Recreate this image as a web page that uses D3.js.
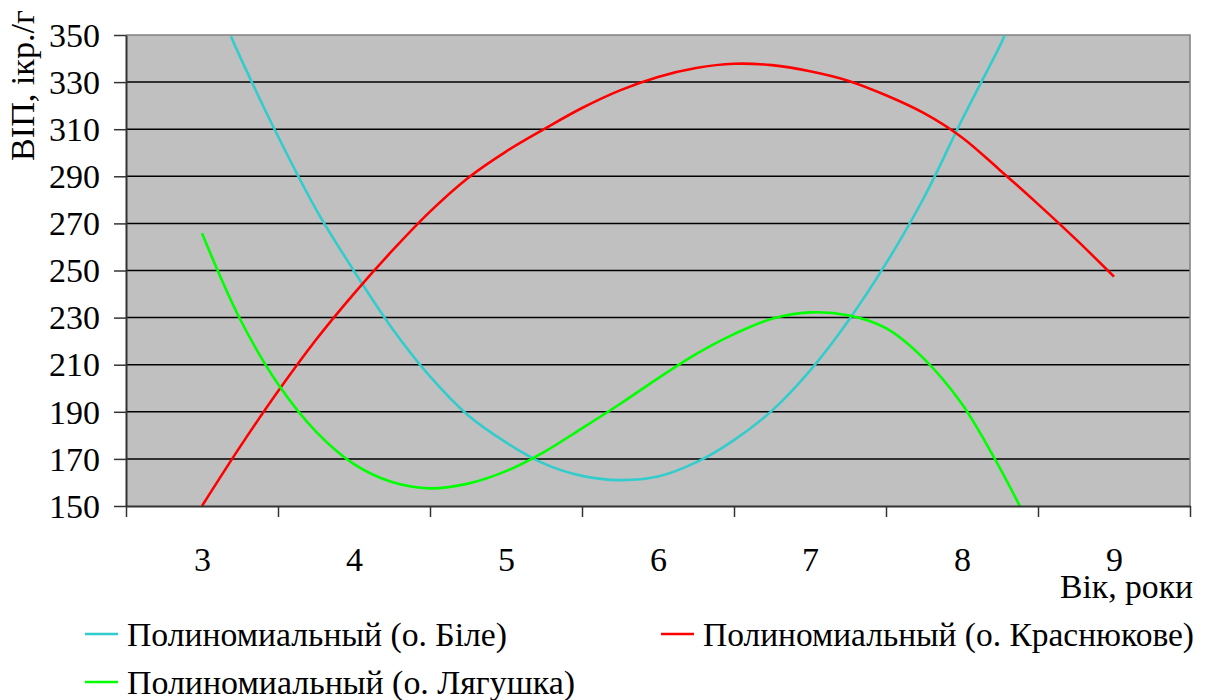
<!DOCTYPE html>
<html>
<head>
<meta charset="utf-8">
<script src="https://cdn.jsdelivr.net/npm/d3@7"></script>
<style>
  html, body { margin: 0; padding: 0; background: #ffffff; }
</style>
</head>
<body>
<svg id="chart" width="1211" height="700" style="font-family: 'Liberation Serif', 'Times New Roman', serif;"></svg>
<script>
// Age categories shown on the horizontal axis
const ageLabels = [3, 4, 5, 6, 7, 8, 9];
// Vertical axis ticks (ВІП, ікр./г)
const vipTicks = [150, 170, 190, 210, 230, 250, 270, 290, 310, 330, 350];

// Polynomial trend, о. Біле
const bileAge = [3.19, 3.25, 3.5, 3.75, 4.0, 4.25, 4.5, 4.75, 5.0, 5.25, 5.5, 5.75, 6.0, 6.25, 6.5, 6.75, 7.0, 7.25, 7.5, 7.75, 8.0, 8.25, 8.28];
const bileVip = [349.5, 340.8, 307.0, 276.0, 249.8, 225.5, 205.0, 188.5, 177.0, 168.0, 162.8, 161.0, 162.5, 168.5, 178.0, 190.5, 207.5, 228.5, 253.0, 281.0, 314.0, 345.5, 349.8];

// Polynomial trend, о. Краснюкове
const krasAge = [3.0, 3.25, 3.5, 3.75, 4.0, 4.25, 4.5, 4.75, 5.0, 5.25, 5.5, 5.75, 6.0, 6.25, 6.5, 6.75, 7.0, 7.25, 7.5, 7.75, 8.0, 8.25, 8.5, 8.75, 9.0];
const krasVip = [150, 175.1, 198.7, 220.6, 240.2, 258.3, 275.0, 289.3, 300.5, 310.0, 319.0, 326.5, 332.2, 336.0, 337.8, 337.2, 334.6, 330.6, 324.4, 316.8, 306.5, 292.6, 278.2, 263.2, 247.4];

// Polynomial trend, о. Лягушка
const lyagAge = [3.0, 3.25, 3.5, 3.75, 4.0, 4.25, 4.5, 4.75, 5.0, 5.25, 5.5, 5.75, 6.0, 6.25, 6.5, 6.75, 7.0, 7.25, 7.5, 7.75, 8.0, 8.25, 8.38];
const lyagVip = [265.8, 229.4, 201.8, 181.6, 167.8, 160.2, 157.5, 159.5, 164.8, 172.9, 183.0, 193.3, 204.2, 214.5, 223.0, 229.5, 232.2, 231.0, 225.5, 212.5, 193.3, 166.0, 150];

const seriesNames = ["Полиномиальный (о. Біле)", "Полиномиальный (о. Краснюкове)", "Полиномиальный (о. Лягушка)"];
const seriesColors = ["#33cccc", "#ff0000", "#00ff00"];

const FONT = "'Liberation Serif', 'Times New Roman', serif";

const svg = d3.select("#chart");
const plot = { left: 126, right: 1190, top: 35, bottom: 506 };

const x = d3.scaleLinear().domain([2.5, 9.5]).range([plot.left, plot.right]);
const y = d3.scaleLinear().domain([150, 350]).range([plot.bottom, plot.top]);

// every text element gets the serif face explicitly
function serif(sel) {
  return sel.attr("font-family", FONT).style("font-family", FONT).attr("fill", "#000");
}

// plot background
svg.append("rect")
  .attr("x", plot.left).attr("y", plot.top)
  .attr("width", plot.right - plot.left).attr("height", plot.bottom - plot.top)
  .attr("fill", "#c0c0c0");

// horizontal gridlines
svg.append("g").selectAll("line")
  .data(vipTicks.filter(v => v > 150 && v < 350))
  .join("line")
  .attr("x1", plot.left).attr("x2", plot.right)
  .attr("y1", d => y(d)).attr("y2", d => y(d))
  .attr("stroke", "#000").attr("stroke-width", 1.5);

// top and right frame
svg.append("path")
  .attr("d", `M${plot.left},${plot.top}H${plot.right}V${plot.bottom}`)
  .attr("fill", "none").attr("stroke", "#808080").attr("stroke-width", 1.5);

// clip for trend lines
svg.append("clipPath").attr("id", "plotClip")
  .append("rect")
  .attr("x", plot.left).attr("y", plot.top - 1)
  .attr("width", plot.right - plot.left).attr("height", plot.bottom - plot.top + 2);

const line = d3.line()
  .x(d => x(d[0])).y(d => y(d[1]))
  .curve(d3.curveCatmullRom.alpha(0.5));

const series = [
  d3.zip(bileAge, bileVip),
  d3.zip(krasAge, krasVip),
  d3.zip(lyagAge, lyagVip)
];

svg.append("g").attr("clip-path", "url(#plotClip)")
  .selectAll("path")
  .data(series)
  .join("path")
  .attr("d", line)
  .attr("fill", "none")
  .attr("stroke", (d, i) => seriesColors[i])
  .attr("stroke-width", 2.6)
  .attr("stroke-linejoin", "round");

// y axis
const yAxis = svg.append("g")
  .attr("transform", `translate(${plot.left},0)`)
  .call(d3.axisLeft(y).tickValues(vipTicks).tickSize(12).tickPadding(14).tickSizeOuter(0));
yAxis.attr("font-family", FONT).attr("font-size", 34);
yAxis.select(".domain").attr("stroke", "#333").attr("stroke-width", 2);
yAxis.selectAll(".tick line").attr("stroke", "#333").attr("stroke-width", 1.5);
serif(yAxis.selectAll(".tick text"))
  .attr("font-size", 34)
  .attr("dy", "0.33em");

// x axis: tick marks on category boundaries
const boundaries = d3.range(2.5, 10, 1);
const xAxis = svg.append("g")
  .attr("transform", `translate(0,${plot.bottom})`)
  .call(d3.axisBottom(x).tickValues(boundaries).tickSize(11).tickFormat("").tickSizeOuter(0));
xAxis.select(".domain").attr("stroke", "#333").attr("stroke-width", 2);
xAxis.selectAll(".tick line").attr("stroke", "#333").attr("stroke-width", 1.5);

// x axis: category labels centred in each band
const xLabels = svg.append("g")
  .attr("transform", `translate(0,${plot.bottom})`)
  .call(d3.axisBottom(x).tickValues(ageLabels).tickSize(0).tickFormat(d3.format("d")));
xLabels.attr("font-family", FONT).attr("font-size", 34);
xLabels.select(".domain").remove();
serif(xLabels.selectAll(".tick text"))
  .attr("font-size", 34)
  .attr("y", 0).attr("dy", 0)
  .attr("transform", "translate(0,65)");

// axis titles
serif(svg.append("text"))
  .attr("transform", "translate(34,161) rotate(-90)")
  .attr("font-size", 33)
  .attr("textLength", 151)
  .attr("lengthAdjust", "spacingAndGlyphs")
  .text("ВІП, ікр./г");

serif(svg.append("text"))
  .attr("x", 1060).attr("y", 598)
  .attr("font-size", 33)
  .attr("textLength", 133)
  .attr("lengthAdjust", "spacingAndGlyphs")
  .text("Вік, роки");

// legend
const legendItems = [
  { name: seriesNames[0], color: seriesColors[0], lx: 85, ty: 646, w: 380 },
  { name: seriesNames[1], color: seriesColors[1], lx: 661, ty: 646, w: 491 },
  { name: seriesNames[2], color: seriesColors[2], lx: 85, ty: 694, w: 448 }
];
const legend = svg.append("g").selectAll("g")
  .data(legendItems)
  .join("g");
legend.append("line")
  .attr("x1", d => d.lx).attr("x2", d => d.lx + 33)
  .attr("y1", d => d.ty - 12).attr("y2", d => d.ty - 12)
  .attr("stroke", d => d.color).attr("stroke-width", 2.6);
serif(legend.append("text"))
  .attr("x", d => d.lx + 42).attr("y", d => d.ty)
  .attr("font-size", 33)
  .attr("textLength", d => d.w)
  .attr("lengthAdjust", "spacingAndGlyphs")
  .text(d => d.name);
</script>
</body>
</html>
